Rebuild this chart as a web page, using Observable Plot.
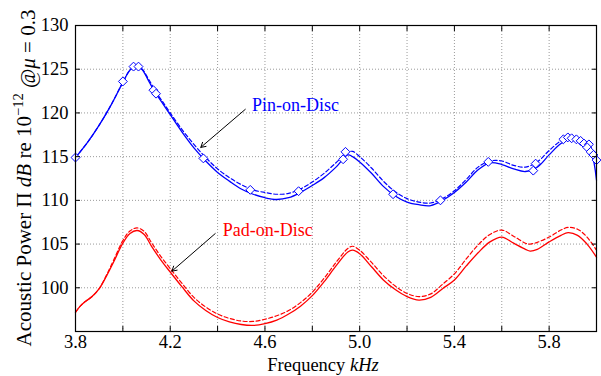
<!DOCTYPE html>
<html><head><meta charset="utf-8">
<script src="https://cdn.jsdelivr.net/npm/d3@7"></script>
<script src="https://cdn.jsdelivr.net/npm/@observablehq/plot@0.6"></script>
<style>body{margin:0;background:#fff;}</style>
</head><body><div id="chart"></div>
<script>
// ---- data ----
const freqBlue = [3.80,3.85,3.90,3.95,4.00,4.03,4.055,4.08,4.11,4.14,4.17,4.20,4.25,4.30,4.35,4.40,4.45,4.50,4.55,4.60,4.65,4.70,4.75,4.80,4.85,4.90,4.95,4.97,5.00,5.05,5.10,5.15,5.20,5.25,5.30,5.35,5.40,5.45,5.50,5.55,5.60,5.65,5.70,5.75,5.80,5.85,5.90,5.95,5.98,6.00];
const pinSolid = [114.9,116.6,118.6,120.9,123.5,124.9,125.35,125.0,123.6,122.2,121.0,119.8,117.8,116.0,114.5,113.2,112.2,111.3,110.7,110.3,110.1,110.3,110.9,111.7,112.6,113.8,115.2,115.0,114.4,113.1,111.6,110.5,109.8,109.5,109.4,110.0,110.9,112.1,113.5,114.3,114.1,113.6,113.3,113.8,115.2,116.5,117.1,116.6,115.3,112.3];
const pinDashed = [114.9,116.6,118.6,120.9,123.5,124.9,125.35,125.05,123.8,122.4,121.2,120.0,118.1,116.4,114.9,113.6,112.6,111.8,111.2,110.9,110.7,110.8,111.3,112.1,113.1,114.3,115.5,115.6,115.0,113.7,112.2,111.0,110.2,109.8,109.7,110.2,111.1,112.4,113.8,114.5,114.5,114.0,113.8,114.4,115.7,116.8,117.3,116.8,115.6,114.6];

const freqRed = [3.80,3.82,3.84,3.87,3.90,3.93,3.96,4.00,4.03,4.06,4.09,4.12,4.16,4.20,4.25,4.30,4.35,4.40,4.45,4.50,4.55,4.60,4.65,4.70,4.75,4.80,4.85,4.90,4.95,4.97,5.00,5.05,5.10,5.15,5.20,5.25,5.30,5.35,5.40,5.45,5.50,5.55,5.60,5.65,5.70,5.72,5.75,5.80,5.85,5.88,5.92,5.96,6.00];
const padSolid = [97.2,97.9,98.4,99.0,99.9,101.3,102.9,105.1,106.2,106.55,106.1,104.8,103.2,101.8,100.1,98.5,97.4,96.6,96.1,95.8,95.7,95.9,96.3,97.0,97.9,99.1,100.7,102.5,104.1,104.3,103.9,102.4,100.9,99.8,99.0,98.6,98.9,99.9,100.9,102.5,104.0,105.25,105.8,105.1,104.4,104.2,104.4,105.25,106.0,106.3,106.0,105.0,103.5];
const padDashed = [97.2,97.9,98.4,99.0,99.9,101.4,103.1,105.4,106.5,106.85,106.45,105.2,103.6,102.2,100.5,98.9,97.8,97.0,96.5,96.2,96.15,96.4,96.8,97.4,98.3,99.5,101.1,102.9,104.5,104.75,104.3,102.9,101.4,100.2,99.35,99.0,99.3,100.4,101.6,103.3,104.9,106.1,106.6,105.9,105.1,105.0,105.2,105.8,106.6,106.9,106.7,105.8,104.3];

const markerFreq = [3.80,4.00,4.045,4.066,4.129,4.140,4.340,4.538,4.742,4.940,4.930,5.141,5.341,5.543,5.743,5.733,5.860,5.879,5.895,5.915,5.933,5.947,5.968,5.961,5.975,5.987,6.000];
const markerLevel = [114.9,123.6,125.3,125.3,122.6,122.2,114.8,111.2,111.05,115.55,114.7,110.7,110.0,114.4,114.2,113.4,116.98,117.2,117.1,116.98,116.8,116.5,116.4,116.05,115.55,115.2,114.6];

const xTicks = [3.8,4.0,4.2,4.4,4.6,4.8,5.0,5.2,5.4,5.6,5.8,6.0];
const xTickLabels = [3.8,4.2,4.6,5.0,5.4,5.8];
const yTicks = [100,105,110,115,120,125,130];

const annText = ["Pin-on-Disc","Pad-on-Disc"];
const annX = [4.545, 4.422];
const annY = [120.9, 106.6];
const annColor = ["#0000ff","#ff0000"];
const arrowX1 = [4.517, 4.39];
const arrowY1 = [120.41, 106.2];
const arrowX2 = [4.329, 4.207];
const arrowY2 = [116.06, 101.9];

// ---- tables ----
const blueSolid = freqBlue.map((f,i)=>({f, v: pinSolid[i]}));
const blueDash = freqBlue.map((f,i)=>({f, v: pinDashed[i]}));
const redSolid = freqRed.map((f,i)=>({f, v: padSolid[i]}));
const redDash = freqRed.map((f,i)=>({f, v: padDashed[i]}));
const markers = markerFreq.map((f,i)=>({f, v: markerLevel[i]}));
const anns = annText.map((t,i)=>({t, x: annX[i], y: annY[i], c: annColor[i]}));
const arrows = arrowX1.map((x1,i)=>({x1, y1: arrowY1[i], x2: arrowX2[i], y2: arrowY2[i]}));

const BLUE = "#0000ff", RED = "#ff0000";
const gridStyle = {stroke: "#9a9a9a", strokeOpacity: 1, strokeDasharray: "1,2", strokeWidth: 1};

const svg = Plot.plot({
  width: 601, height: 376,
  marginLeft: 75, marginRight: 5, marginTop: 25, marginBottom: 45,
  style: {fontFamily: "'Liberation Serif', 'Times New Roman', serif", fontSize: "18.5px", background: "#fff", color: "#000"},
  x: {domain: [3.8, 6.0]},
  y: {domain: [95, 130]},
  marks: [
    Plot.gridX(xTicks, gridStyle),
    Plot.gridY(yTicks, gridStyle),
    Plot.line(redDash, {x: "f", y: "v", stroke: RED, strokeWidth: 1.2, strokeDasharray: "4,2.5", curve: "catmull-rom"}),
    Plot.line(redSolid, {x: "f", y: "v", stroke: RED, strokeWidth: 1.3, curve: "catmull-rom"}),
    Plot.line(blueDash, {x: "f", y: "v", stroke: BLUE, strokeWidth: 1.2, strokeDasharray: "4,2.5", curve: "catmull-rom"}),
    Plot.line(blueSolid, {x: "f", y: "v", stroke: BLUE, strokeWidth: 1.3, curve: "catmull-rom"}),
    Plot.dot(markers, {x: "f", y: "v", symbol: "diamond2", r: 4, stroke: BLUE, fill: "#fff", strokeWidth: 1}),
    Plot.arrow(arrows, {x1: "x1", y1: "y1", x2: "x2", y2: "y2", stroke: "#000", strokeWidth: 1, headLength: 8}),
    Plot.text(anns, {x: "x", y: "y", text: "t", fill: "c", textAnchor: "start", lineAnchor: "middle", fontSize: 18}),
    Plot.frame({stroke: "#000", strokeWidth: 1.2}),
    Plot.axisX(xTicks, {anchor: "bottom", tickSize: -5, tickFormat: () => "", stroke: "#000"}),
    Plot.axisX(xTicks, {anchor: "top", tickSize: -5, tickFormat: () => "", stroke: "#000"}),
    Plot.axisX(xTickLabels, {anchor: "bottom", tickSize: 0, tickPadding: 3, tickFormat: d3.format(".1f"), label: null, fill: "#000"}),
    Plot.axisY(yTicks, {anchor: "left", tickSize: -5, tickFormat: () => "", stroke: "#000"}),
    Plot.axisY(yTicks, {anchor: "right", tickSize: -5, tickFormat: () => "", stroke: "#000"}),
    Plot.axisY(yTicks, {anchor: "left", tickSize: 0, tickPadding: 7, tickFormat: d => String(d), label: null, fill: "#000"})
  ]
});

const s = d3.select(svg);
// y label
const yl = s.append("text")
  .attr("transform", "translate(31,178) rotate(-90)")
  .attr("text-anchor", "middle")
  .style("font-family", "'Liberation Serif', 'Times New Roman', serif")
  .style("font-size", "21px")
  .attr("fill", "#000");
yl.append("tspan").text("Acoustic Power \u03A0 ");
yl.append("tspan").style("font-style", "italic").text("dB");
yl.append("tspan").text(" re 10");
yl.append("tspan").attr("dy", "-0.55em").style("font-size", "14.5px").text("\u221212");
yl.append("tspan").attr("dy", "0.55em").text(" @");
yl.append("tspan").style("font-style", "italic").text("\u03BC");
yl.append("tspan").text(" = 0.3");
// x label
const xl = s.append("text")
  .attr("x", 323).attr("y", 371)
  .attr("text-anchor", "middle")
  .style("font-family", "'Liberation Serif', 'Times New Roman', serif")
  .style("font-size", "18.5px")
  .attr("fill", "#000");
xl.append("tspan").text("Frequency ");
xl.append("tspan").style("font-style", "italic").text("kHz");

document.getElementById("chart").appendChild(svg);
</script>
</body></html>
